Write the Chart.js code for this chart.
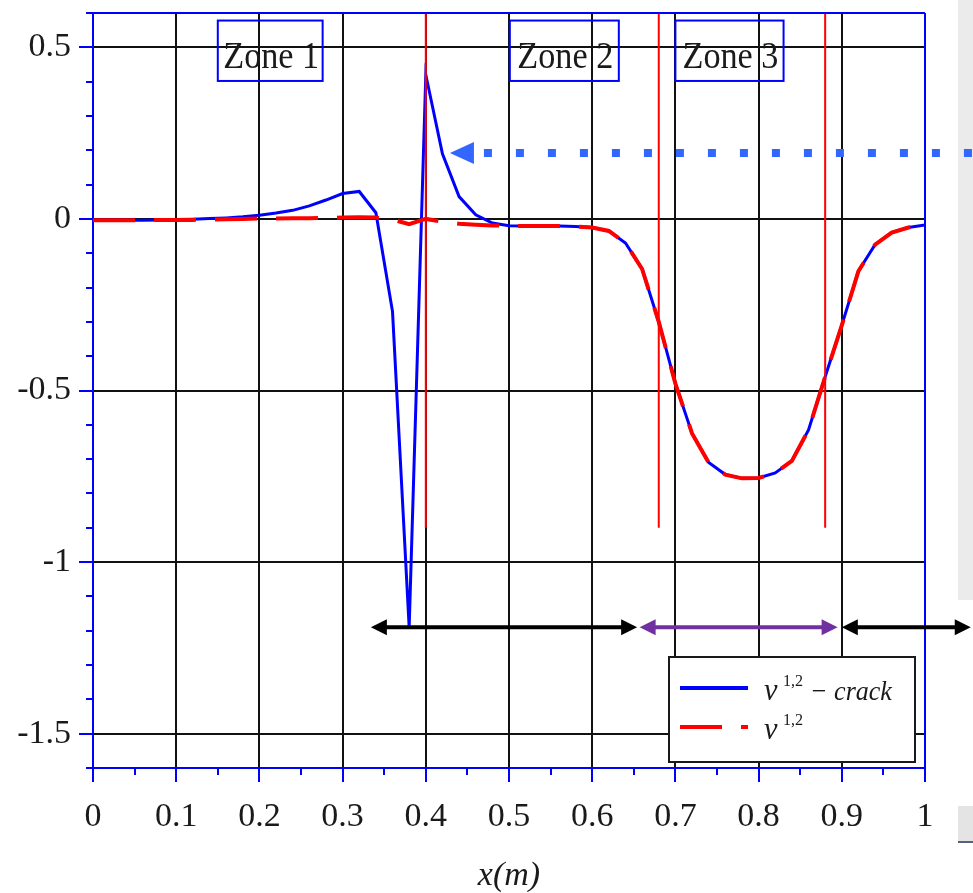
<!DOCTYPE html>
<html>
<head>
<meta charset="utf-8">
<script src="https://cdn.jsdelivr.net/npm/chart.js@4.4.0/dist/chart.umd.min.js"></script>
<style>
  html, body { margin: 0; padding: 0; background: #fff; }
  #wrap { position: relative; width: 973px; height: 893px; overflow: hidden; }
  #strip { position: absolute; left: 958px; top: 0; width: 15px; height: 600px; background: #ebebeb; }
  #strip2 { position: absolute; left: 958px; top: 806px; width: 15px; height: 35px; background: #e4e4e4; border-bottom: 2px solid #56627d; }
  canvas { position: absolute; left: 0; top: 0; }
</style>
</head>
<body>
<div id="wrap">
  <div id="strip"></div>
  <div id="strip2"></div>
  <canvas id="chart" width="973" height="893"></canvas>
</div>
<script>
// sample positions along the beam (m)
const xValues = [0, 0.02, 0.04, 0.06, 0.08, 0.1, 0.12, 0.14, 0.16, 0.18,
  0.2, 0.22, 0.24, 0.26, 0.28, 0.3, 0.32, 0.34, 0.36, 0.38,
  0.4, 0.42, 0.44, 0.46, 0.48, 0.5, 0.52, 0.54, 0.56, 0.58,
  0.6, 0.62, 0.64, 0.66, 0.68, 0.7, 0.72, 0.74, 0.76, 0.78,
  0.8, 0.82, 0.84, 0.86, 0.88, 0.9, 0.92, 0.94, 0.96, 0.98, 1];

// nu^{1,2} with crack (blue)
const crackValues = [-0.004, -0.004, -0.004, -0.004, -0.003, -0.002, -0.001, 0.001, 0.003, 0.006,
  0.011, 0.017, 0.025, 0.038, 0.055, 0.074, 0.08, 0.018, -0.27, -1.19,
  0.42, 0.19, 0.065, 0.012, -0.012, -0.02, -0.021, -0.021, -0.021, -0.022,
  -0.025, -0.035, -0.07, -0.146, -0.3, -0.48, -0.625, -0.71, -0.745, -0.756,
  -0.755, -0.74, -0.705, -0.615, -0.46, -0.31, -0.152, -0.075, -0.04, -0.025, -0.018];

// nu^{1,2} without crack (red dashed)
const refValues = [-0.004, -0.004, -0.004, -0.004, -0.003, -0.003, -0.003, -0.002, -0.001, 0,
  0.001, 0.001, 0.002, 0.002, 0.003, 0.004, 0.005, 0.004, -0.002, -0.015,
  0, -0.008, -0.014, -0.017, -0.019, -0.02, -0.021, -0.021, -0.021, -0.022,
  -0.025, -0.035, -0.07, -0.146, -0.3, -0.48, -0.625, -0.71, -0.745, -0.756,
  -0.755, -0.74, -0.705, -0.615, -0.46, -0.31, -0.152, -0.075, -0.04, -0.025, -0.018];

const xTicks = [0, 0.1, 0.2, 0.3, 0.4, 0.5, 0.6, 0.7, 0.8, 0.9, 1];
const xMinorTicks = [0.05, 0.15, 0.25, 0.35, 0.45, 0.55, 0.65, 0.75, 0.85, 0.95];
const yTicks = [-1.5, -1, -0.5, 0, 0.5];
const yMinorTicks = [0.6, 0.4, 0.3, 0.2, 0.1, -0.1, -0.2, -0.3, -0.4, -0.6, -0.7, -0.8, -0.9,
  -1.1, -1.2, -1.3, -1.4, -1.6];

// zone markers (data coords)
const zoneLineX = [0.4, 0.68, 0.88];
const zoneLineTop = 0.6;
const zoneLineBottom = -0.9;
const zoneNames = ['Zone 1', 'Zone 2', 'Zone 3'];
const zoneBoxLeft = [0.15, 0.501, 0.70];
const zoneBoxRight = [0.276, 0.632, 0.83];
const zoneBoxTop = 0.578;
const zoneBoxBottom = 0.402;

// annotation arrows (data coords)
const crackArrowTip = { x: 0.429, y: 0.192 };
const crackArrowTail = 1.06;
const spanStarts = [0.334, 0.657, 0.9];
const spanEnds = [0.654, 0.895, 1.055];
const spanY = -1.19;
const spanColors = ['#000000', '#7030a0', '#000000'];

const AXIS_BLUE = '#0000ff';
const SERIF = "'Liberation Serif', 'DejaVu Serif', serif";

function fmt(v) {
  const r = Math.round(v * 10) / 10;
  return String(r);
}

function line(ctx, x1, y1, x2, y2) {
  ctx.beginPath();
  ctx.moveTo(x1, y1);
  ctx.lineTo(x2, y2);
  ctx.stroke();
}

function arrowHead(ctx, tipX, tipY, dir, len, half) {
  ctx.beginPath();
  ctx.moveTo(tipX, tipY);
  ctx.lineTo(tipX - dir * len, tipY - half);
  ctx.lineTo(tipX - dir * len, tipY + half);
  ctx.closePath();
  ctx.fill();
}

function squeezedText(ctx, text, x, y, font, sx, align) {
  ctx.save();
  ctx.font = font;
  ctx.textAlign = align || 'left';
  ctx.textBaseline = 'alphabetic';
  ctx.translate(x, y);
  ctx.scale(sx, 1);
  ctx.fillText(text, 0, 0);
  ctx.restore();
}

const overlayPlugin = {
  id: 'overlay',
  afterDraw(chart) {
    const { ctx, chartArea: a } = chart;
    const xs = chart.scales.x, ys = chart.scales.y;
    ctx.save();

    // minor ticks
    ctx.strokeStyle = AXIS_BLUE;
    ctx.lineWidth = 2;
    yMinorTicks.forEach((v) => {
      const py = Math.round(ys.getPixelForValue(v));
      line(ctx, a.left - 7, py, a.left, py);
    });
    xMinorTicks.forEach((v) => {
      const px = Math.round(xs.getPixelForValue(v));
      line(ctx, px, a.bottom, px, a.bottom + 7);
    });

    // top / right frame
    line(ctx, a.left, a.top, a.right, a.top);
    line(ctx, a.right, a.top, a.right, a.bottom);

    // zone boxes
    ctx.fillStyle = '#1a1a1a';
    zoneNames.forEach((name, i) => {
      const l = xs.getPixelForValue(zoneBoxLeft[i]);
      const r = xs.getPixelForValue(zoneBoxRight[i]);
      const t = ys.getPixelForValue(zoneBoxTop);
      const b = ys.getPixelForValue(zoneBoxBottom);
      ctx.strokeStyle = AXIS_BLUE;
      ctx.lineWidth = 2;
      ctx.strokeRect(l, t, r - l, b - t);
      squeezedText(ctx, name, (l + r) / 2 + 1, t + 47, '38px ' + SERIF, 0.9, 'center');
    });

    // dotted arrow pointing at the crack
    const tipX = xs.getPixelForValue(crackArrowTip.x);
    const tipY = ys.getPixelForValue(crackArrowTip.y);
    ctx.fillStyle = '#3366ff';
    arrowHead(ctx, tipX, tipY, -1, 24, 11);
    ctx.strokeStyle = '#3366ff';
    ctx.lineWidth = 8;
    ctx.setLineDash([8, 24]);
    line(ctx, tipX + 34, tipY, xs.getPixelForValue(crackArrowTail), tipY);
    ctx.setLineDash([]);

    // span arrows
    const sy = ys.getPixelForValue(spanY);
    spanStarts.forEach((s, i) => {
      const x1 = xs.getPixelForValue(s);
      const x2 = xs.getPixelForValue(spanEnds[i]);
      ctx.strokeStyle = spanColors[i];
      ctx.fillStyle = spanColors[i];
      ctx.lineWidth = 4;
      line(ctx, x1 + 10, sy, x2 - 10, sy);
      arrowHead(ctx, x1, sy, -1, 16, 8);
      arrowHead(ctx, x2, sy, 1, 16, 8);
    });

    // legend
    const L = a.right - 256, R = a.right - 10, T = a.bottom - 111, B = a.bottom - 6;
    ctx.fillStyle = '#ffffff';
    ctx.fillRect(L, T, R - L, B - T);
    ctx.strokeStyle = '#1a1a1a';
    ctx.lineWidth = 2;
    ctx.strokeRect(L, T, R - L, B - T);
    const rows = [chart.data.datasets[0], chart.data.datasets[1]];
    const rowY = [T + 31, T + 70];
    rows.forEach((ds, i) => {
      ctx.strokeStyle = ds.borderColor;
      ctx.lineWidth = 4;
      ctx.setLineDash(ds.borderDash || []);
      line(ctx, L + 11, rowY[i], L + 79, rowY[i]);
      ctx.setLineDash([]);
      ctx.fillStyle = '#1a1a1a';
      const base = rowY[i] + 12;
      squeezedText(ctx, 'ν', L + 95, base, 'italic 32px ' + SERIF, 0.95);
      squeezedText(ctx, '1,2', L + 114, base - 14, '17px ' + SERIF, 0.95);
      if (i === 0) squeezedText(ctx, '− crack', L + 141, base, 'italic 28px ' + SERIF, 0.93);
    });

    ctx.restore();
  }
};

const ctx = document.getElementById('chart').getContext('2d');
new Chart(ctx, {
  type: 'line',
  data: {
    datasets: [
      {
        label: 'crack',
        data: xValues.map((x, i) => ({ x, y: crackValues[i] })),
        borderColor: '#0000ff', borderWidth: 3, pointRadius: 0, tension: 0, order: 2
      },
      {
        label: 'ref',
        data: xValues.map((x, i) => ({ x, y: refValues[i] })),
        borderColor: '#ff0000', borderWidth: 4, borderDash: [42, 19], pointRadius: 0, tension: 0, order: 1
      },
      ...zoneLineX.map((x) => ({
        label: 'zone',
        data: [{ x, y: zoneLineTop }, { x, y: zoneLineBottom }],
        borderColor: '#ff0000', borderWidth: 2, pointRadius: 0, order: 0
      }))
    ]
  },
  options: {
    responsive: false,
    animation: false,
    layout: { padding: { top: 13, right: 48, left: 0, bottom: 0 } },
    plugins: { legend: { display: false }, tooltip: { enabled: false } },
    scales: {
      x: {
        type: 'linear', min: 0, max: 1,
        afterBuildTicks: (s) => { s.ticks = xTicks.map((v) => ({ value: v })); },
        afterFit: (s) => { s.height = 125; s.paddingLeft = 0; s.paddingRight = 0; },
        grid: { color: '#111', lineWidth: 2, tickColor: AXIS_BLUE, tickLength: 14, tickWidth: 2 },
        border: { color: AXIS_BLUE, width: 2 },
        ticks: {
          font: { family: SERIF, size: 34 }, color: '#1a1a1a', padding: 15,
          maxRotation: 0, autoSkip: false, callback: (v) => fmt(v)
        },
        title: {
          display: true, text: 'x(m)', color: '#1a1a1a',
          font: { family: SERIF, size: 34, style: 'italic', lineHeight: 1 },
          padding: { top: 0, bottom: 0 }
        }
      },
      y: {
        type: 'linear', min: -1.6, max: 0.6,
        afterBuildTicks: (s) => { s.ticks = yTicks.map((v) => ({ value: v })); },
        afterFit: (s) => { s.width = 93; s.paddingTop = 0; s.paddingBottom = 0; },
        grid: { color: '#111', lineWidth: 2, tickColor: AXIS_BLUE, tickLength: 14, tickWidth: 2 },
        border: { color: AXIS_BLUE, width: 2 },
        ticks: {
          font: { family: SERIF, size: 34 }, color: '#1a1a1a', padding: 8,
          autoSkip: false, callback: (v) => fmt(v)
        }
      }
    }
  },
  plugins: [overlayPlugin]
});
</script>
</body>
</html>
